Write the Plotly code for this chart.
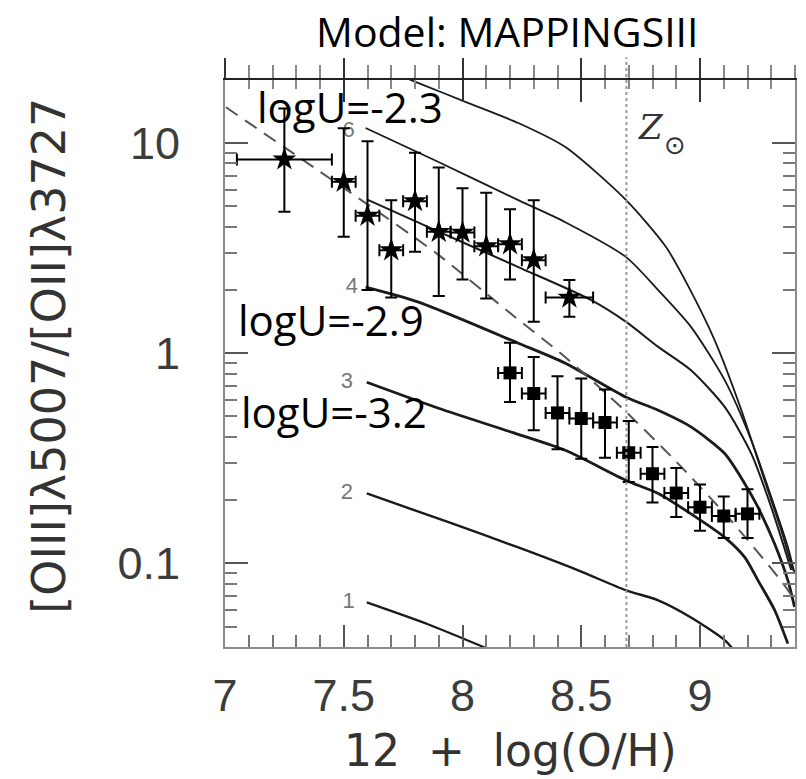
import plotly.graph_objects as go

# ---------------- data ----------------
star_x = [7.25, 7.5, 7.6, 7.7, 7.8, 7.9, 8.0, 8.1, 8.2, 8.3, 8.45]
star_y = [8.36, 6.54, 4.51, 3.09, 5.29, 3.78, 3.75, 3.23, 3.30, 2.77, 1.84]
star_y_hi = [14.6, 11.75, 10.2, 5.35, 8.99, 7.66, 6.09, 5.80, 4.84, 5.35, 2.23]
star_y_lo = [4.71, 3.58, 2.0, 1.84, 3.04, 1.87, 2.24, 1.82, 2.24, 1.41, 1.49]
star_xerr = [0.2, 0.05, 0.05, 0.05, 0.05, 0.05, 0.05, 0.05, 0.05, 0.05, 0.1]

sq_x = [8.2, 8.3, 8.4, 8.5, 8.6, 8.7, 8.8, 8.9, 9.0, 9.1, 9.2]
sq_y = [0.806, 0.643, 0.52, 0.489, 0.468, 0.336, 0.267, 0.216, 0.185, 0.168, 0.172]
sq_y_hi = [1.12, 0.96, 0.777, 0.757, 0.671, 0.476, 0.358, 0.284, 0.237, 0.208, 0.225]
sq_y_lo = [0.586, 0.43, 0.349, 0.315, 0.318, 0.244, 0.195, 0.166, 0.143, 0.132, 0.132]
sq_xerr = [0.05] * 11

curve1_x = [7.597, 7.857, 8.10]
curve1_y = [0.0652, 0.0512, 0.0395]
curve2_x = [7.597, 7.941, 8.235, 8.487, 8.689, 8.824, 8.962, 9.105, 9.16]
curve2_y = [0.215, 0.157, 0.119, 0.0926, 0.0744, 0.0667, 0.0553, 0.043, 0.0365]
curve3_x = [7.597, 7.899, 8.235, 8.433, 8.689, 8.824, 8.962, 9.104, 9.188, 9.244, 9.314, 9.370]
curve3_y = [0.727, 0.547, 0.411, 0.345, 0.248, 0.215, 0.172, 0.133, 0.107, 0.083, 0.060, 0.0415]
curve4_x = [7.592, 7.815, 8.235, 8.433, 8.689, 8.824, 8.962, 9.104, 9.188, 9.244, 9.314, 9.370, 9.398]
curve4_y = [2.062, 1.75, 1.116, 0.896, 0.617, 0.535, 0.446, 0.333, 0.240, 0.185, 0.124, 0.083, 0.062]
curve5_x = [7.597, 7.857, 8.235, 8.542, 8.689, 8.824, 8.962, 9.104, 9.216, 9.300, 9.384]
curve5_y = [5.4, 3.98, 2.57, 1.79, 1.41, 1.072, 0.830, 0.555, 0.333, 0.185, 0.093]
curve6_x = [7.592, 7.899, 8.235, 8.433, 8.689, 8.824, 8.962, 9.104, 9.216, 9.300, 9.370, 9.398]
curve6_y = [11.79, 8.12, 5.35, 4.2, 2.865, 1.995, 1.334, 0.744, 0.385, 0.207, 0.1196, 0.0896]
curve7_x = [7.592, 7.815, 8.025, 8.235, 8.433, 8.689, 8.857, 8.950, 9.062, 9.174, 9.272, 9.342, 9.391]
curve7_y = [24.3, 19.3, 15.5, 12.45, 9.57, 5.35, 3.20, 2.09, 1.15, 0.536, 0.248, 0.1436, 0.0926]

dash_x = [7.004, 7.31, 7.592, 7.90, 8.18, 8.433, 8.668, 8.895, 9.13, 9.34, 9.40]
dash_y = [14.8, 8.58, 5.18, 2.93, 1.62, 0.957, 0.553, 0.309, 0.160, 0.083, 0.0667]

curve_labels = ["1", "2", "3", "4", "6"]
curve_label_x = [7.52, 7.513, 7.513, 7.534, 7.521]
curve_label_y = [0.0652, 0.215, 0.727, 2.062, 11.3]

z_sun = 8.69

x_ticks = [7, 7.5, 8, 8.5, 9]
x_ticktext = ["7", "7.5", "8", "8.5", "9"]
y_ticks = [0.1, 1, 10]
y_ticktext = ["0.1", "1", "10"]
y_minor = [0.05, 0.06, 0.07, 0.08, 0.09, 0.2, 0.3, 0.4, 0.5, 0.6, 0.7, 0.8, 0.9,
           2, 3, 4, 5, 6, 7, 8, 9, 20]

x_range = [7.0, 9.4]
y_range_log = [-1.398, 1.3]

# ---------------- figure ----------------
fig = go.Figure()

curves = [(curve1_x, curve1_y), (curve2_x, curve2_y), (curve3_x, curve3_y),
          (curve4_x, curve4_y), (curve5_x, curve5_y), (curve6_x, curve6_y),
          (curve7_x, curve7_y)]
widths = [2.2, 2.4, 2.8, 2.8, 2.0, 1.8, 1.8]
for (cx, cy), w in zip(curves, widths):
    fig.add_trace(go.Scatter(x=cx, y=cy, mode="lines",
                             line=dict(color="#1a1a1a", width=w, shape="spline", smoothing=0.7),
                             showlegend=False, hoverinfo="skip"))

fig.add_trace(go.Scatter(x=dash_x, y=dash_y, mode="lines",
                         line=dict(color="#555555", width=2, dash="14px,9px", shape="spline", smoothing=0.7),
                         showlegend=False, hoverinfo="skip"))

fig.add_trace(go.Scatter(x=curve_label_x, y=curve_label_y, mode="text", text=curve_labels,
                         textposition="middle center",
                         textfont=dict(family="Liberation Sans", size=22, color="#777777"),
                         showlegend=False, hoverinfo="skip"))

star_plus = [h - y for h, y in zip(star_y_hi, star_y)]
star_minus = [y - l for y, l in zip(star_y, star_y_lo)]
fig.add_trace(go.Scatter(
    x=star_x, y=star_y, mode="markers",
    marker=dict(symbol="star", size=18, color="black"),
    error_y=dict(type="data", symmetric=False, array=star_plus, arrayminus=star_minus,
                 color="black", thickness=2, width=6),
    error_x=dict(type="data", array=star_xerr, color="black", thickness=2, width=6),
    showlegend=False))

sq_plus = [h - y for h, y in zip(sq_y_hi, sq_y)]
sq_minus = [y - l for y, l in zip(sq_y, sq_y_lo)]
fig.add_trace(go.Scatter(
    x=sq_x, y=sq_y, mode="markers",
    marker=dict(symbol="square", size=13, color="black"),
    error_y=dict(type="data", symmetric=False, array=sq_plus, arrayminus=sq_minus,
                 color="black", thickness=2, width=6),
    error_x=dict(type="data", array=sq_xerr, color="black", thickness=2, width=6),
    showlegend=False))

# invisible traces to anchor the top axes
fig.add_trace(go.Scatter(x=x_range, y=[1, 1], xaxis="x2", mode="lines",
                         line=dict(width=0), showlegend=False, hoverinfo="skip"))
fig.add_trace(go.Scatter(x=x_range, y=[1, 1], xaxis="x3", mode="lines",
                         line=dict(width=0), showlegend=False, hoverinfo="skip"))

# solar metallicity dotted line
fig.add_shape(type="line", xref="x", yref="paper", x0=z_sun, x1=z_sun, y0=0, y1=1.04,
              line=dict(color="#999999", width=2, dash="dot"))

tickfont = dict(family="Liberation Sans", size=45, color="#3c3c3c")
fig.update_layout(
    width=806, height=779,
    margin=dict(l=225, r=9, t=80, b=132),
    plot_bgcolor="white", paper_bgcolor="white",
    xaxis=dict(range=x_range, tickvals=x_ticks, ticktext=x_ticktext,
               showgrid=False, zeroline=False, showline=True, linecolor="#8c8c8c", linewidth=2,
               ticks="inside", ticklen=22, tickwidth=2, tickcolor="#555555",
               minor=dict(dtick=0.1, ticks="inside", ticklen=12, tickwidth=2, tickcolor="#777777", showgrid=False),
               mirror=False, tickfont=tickfont, ticklabelstandoff=8),
    xaxis2=dict(range=x_range, overlaying="x", side="top", anchor="y",
                showgrid=False, zeroline=False, showline=True, linecolor="#222222", linewidth=2,
                tickvals=x_ticks, showticklabels=False,
                ticks="outside", ticklen=20, tickwidth=2, tickcolor="#333333",
                minor=dict(dtick=0.1, ticks="outside", ticklen=13, tickwidth=2, tickcolor="#888888")),
    xaxis3=dict(range=x_range, overlaying="x", side="top", anchor="y",
                showgrid=False, zeroline=False, showline=False,
                tickvals=x_ticks, showticklabels=False,
                ticks="inside", ticklen=22, tickwidth=2, tickcolor="#333333",
                minor=dict(dtick=0.1, ticks="inside", ticklen=9, tickwidth=2, tickcolor="#888888")),
    yaxis=dict(type="log", range=y_range_log, tickvals=y_ticks, ticktext=y_ticktext,
               showgrid=False, zeroline=False, showline=True, linecolor="#8c8c8c", linewidth=2,
               ticks="inside", ticklen=23, tickwidth=2, tickcolor="#555555",
               minor=dict(tickvals=y_minor, ticks="inside", ticklen=12, tickwidth=2, tickcolor="#777777", showgrid=False),
               mirror="ticks", tickfont=tickfont, ticklabelstandoff=34),
)

# axis titles and texts
fig.add_annotation(text="12\u00a0\u00a0+\u00a0\u00a0log(O/H)", xref="paper", yref="paper", x=0.5017, y=-0.1817,
                   showarrow=False, xanchor="center", yanchor="middle",
                   font=dict(family="DejaVu Sans", size=44, color="#333333"))
fig.add_annotation(text="[OIII]λ5007/[OII]λ3727", xref="paper", yref="paper", x=-0.3094, y=0.513,
                   showarrow=False, xanchor="center", yanchor="middle", textangle=-90,
                   font=dict(family="DejaVu Sans", size=46, color="#333333"))
fig.add_annotation(text="Model: MAPPINGSIII", xref="paper", yref="paper", x=0.4948, y=1.087,
                   showarrow=False, xanchor="center", yanchor="middle",
                   font=dict(family="Open Sans", size=41, color="black"))
for txt, px_, py_ in [("logU=-2.3", 0.2185, 0.954), ("logU=-2.9", 0.1862, 0.578),
                      ("logU=-3.2", 0.1914, 0.4162)]:
    fig.add_annotation(text=txt, xref="paper", yref="paper", x=px_, y=py_,
                       showarrow=False, xanchor="center", yanchor="middle",
                       font=dict(family="Open Sans", size=42, color="black"))
fig.add_annotation(text="<i>Z</i>", xref="paper", yref="paper", x=0.7465, y=0.917,
                   showarrow=False, xanchor="center", yanchor="middle",
                   font=dict(family="DejaVu Serif", size=34, color="#333333"))
fig.add_annotation(text="⊙", xref="paper", yref="paper", x=0.790, y=0.885,
                   showarrow=False, xanchor="center", yanchor="middle",
                   font=dict(family="DejaVu Sans", size=26, color="#333333"))

fig.write_html("out.html")
